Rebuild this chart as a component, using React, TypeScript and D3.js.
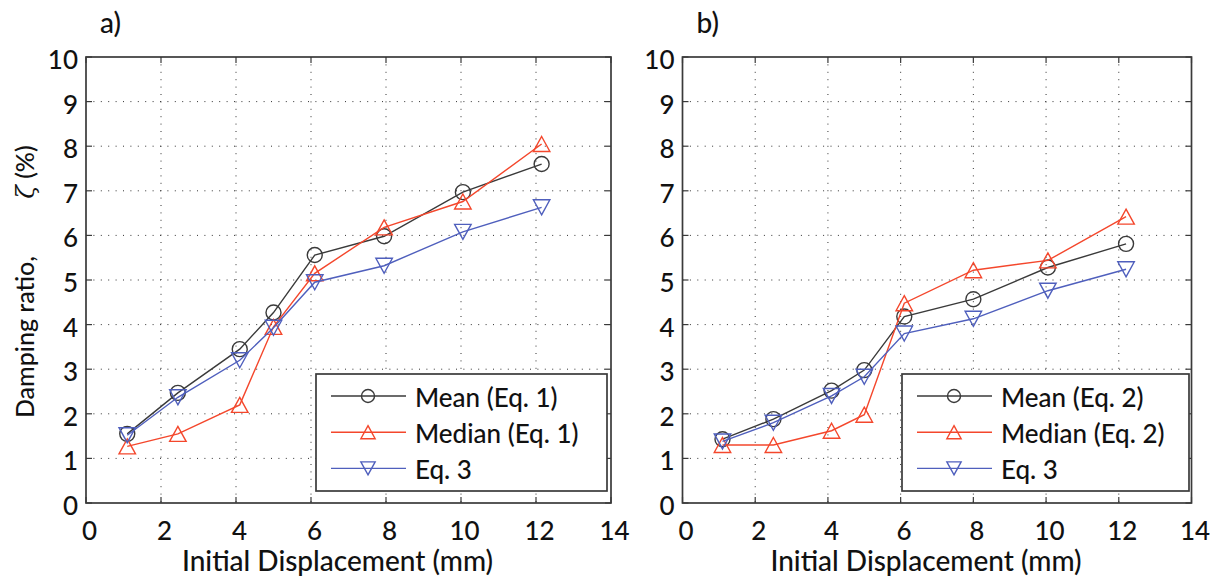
import React from "react";
import * as d3 from "d3";

// ---------- data ----------
const xTicks = [0, 2, 4, 6, 8, 10, 12, 14];
const yTicks = [0, 1, 2, 3, 4, 5, 6, 7, 8, 9, 10];

const dispA = [1.1, 2.45, 4.1, 5.0, 6.1, 7.95, 10.05, 12.15];
const meanA = [1.55, 2.47, 3.45, 4.27, 5.56, 5.98, 6.97, 7.6];
const medianA = [1.27, 1.55, 2.2, 3.95, 5.15, 6.18, 6.76, 8.05];
const eq3A = [1.52, 2.37, 3.2, 3.93, 4.95, 5.32, 6.08, 6.63];

const dispB = [1.1, 2.5, 4.1, 5.0, 6.1, 8.0, 10.05, 12.2];
const meanB = [1.43, 1.88, 2.52, 2.98, 4.18, 4.57, 5.28, 5.81];
const medianB = [1.3, 1.3, 1.62, 1.98, 4.48, 5.22, 5.44, 6.42];
const eq3B = [1.38, 1.8, 2.4, 2.83, 3.8, 4.13, 4.76, 5.24];

const legendA = ["Mean (Eq. 1)", "Median (Eq. 1)", "Eq. 3"];
const legendB = ["Mean (Eq. 2)", "Median (Eq. 2)", "Eq. 3"];

// ---------- style ----------
const FONT = "Lato, 'Open Sans', sans-serif";
const BLACK = "#3a3a3a";
const RED = "#f4472c";
const BLUE = "#4f5fbd";
const seriesStyles = [
  { color: BLACK, marker: "circle" },
  { color: RED, marker: "up" },
  { color: BLUE, marker: "down" },
];

type TProps = {
  x: number;
  y: number;
  size: number;
  anchor?: "start" | "middle" | "end";
  rotate?: number;
  children: React.ReactNode;
};
function T({ x, y, size, anchor = "start", rotate = 0, children }: TProps) {
  return (
    <text
      transform={`translate(${x},${y}) rotate(${rotate})`}
      textAnchor={anchor}
      fontFamily={FONT}
      fontWeight={500}
      fontSize={size}
      fill="#111"
    >
      {children}
    </text>
  );
}

type MarkerProps = { kind: string; x: number; y: number; color: string; s: number };
function Marker({ kind, x, y, color, s }: MarkerProps) {
  if (kind === "circle") {
    return <circle cx={x} cy={y} r={s * 0.5} fill="none" stroke={color} strokeWidth={1.4} />;
  }
  const h = s * 0.5;
  const w = s * 0.55;
  const pts =
    kind === "up"
      ? [[x, y - h], [x + w, y + h], [x - w, y + h]]
      : [[x, y + h], [x + w, y - h], [x - w, y - h]];
  return (
    <polygon
      points={pts.map((p) => p.join(",")).join(" ")}
      fill="none"
      stroke={color}
      strokeWidth={1.4}
    />
  );
}

type PanelProps = {
  left: number;
  right: number;
  top: number;
  bottom: number;
  label: string;
  disp: number[];
  series: number[][];
  legend: string[];
  legendBox: { x0: number; x1: number; y0: number; y1: number };
  showYTitle: boolean;
};

function Panel(p: PanelProps) {
  const x = d3.scaleLinear().domain([0, 14]).range([p.left, p.right]);
  const y = d3.scaleLinear().domain([0, 10]).range([p.bottom, p.top]);
  const line = d3
    .line<[number, number]>()
    .x((d) => x(d[0]))
    .y((d) => y(d[1]));
  const tickLen = 6;
  const lb = p.legendBox;
  const rowH = 36.2;
  const rowY0 = lb.y0 + 22;
  return (
    <g>
      {/* grid */}
      {xTicks.slice(1, -1).map((t) => (
        <line
          key={"gx" + t}
          x1={x(t)}
          x2={x(t)}
          y1={p.top}
          y2={p.bottom}
          stroke="#333"
          strokeWidth={1}
          strokeDasharray="1,6.4"
        />
      ))}
      {yTicks.slice(1, -1).map((t) => (
        <line
          key={"gy" + t}
          x1={p.left}
          x2={p.right}
          y1={y(t)}
          y2={y(t)}
          stroke="#333"
          strokeWidth={1}
          strokeDasharray="1,6.4"
        />
      ))}
      {/* ticks */}
      {xTicks.map((t) => (
        <g key={"tx" + t}>
          <line x1={x(t)} x2={x(t)} y1={p.bottom} y2={p.bottom - tickLen} stroke={BLACK} strokeWidth={1.2} />
          <line x1={x(t)} x2={x(t)} y1={p.top} y2={p.top + tickLen} stroke={BLACK} strokeWidth={1.2} />
          <T x={x(t) + 3.5} y={p.bottom + 36.5} size={26} anchor="middle">
            {t}
          </T>
        </g>
      ))}
      {yTicks.map((t) => (
        <g key={"ty" + t}>
          <line x1={p.left} x2={p.left + tickLen} y1={y(t)} y2={y(t)} stroke={BLACK} strokeWidth={1.2} />
          <line x1={p.right} x2={p.right - tickLen} y1={y(t)} y2={y(t)} stroke={BLACK} strokeWidth={1.2} />
          <T x={p.left - 8} y={y(t) + 12} size={26} anchor="end">
            {t}
          </T>
        </g>
      ))}
      {/* series */}
      {p.series.map((vals, i) => {
        const st = seriesStyles[i];
        const pts = p.disp.map((d, j) => [d, vals[j]] as [number, number]);
        return (
          <g key={"s" + i}>
            <path d={line(pts) || ""} fill="none" stroke={st.color} strokeWidth={1.4} />
            {pts.map((pt, j) => (
              <Marker key={j} kind={st.marker} x={x(pt[0])} y={y(pt[1])} color={st.color} s={15} />
            ))}
          </g>
        );
      })}
      {/* box */}
      <rect
        x={p.left}
        y={p.top}
        width={p.right - p.left}
        height={p.bottom - p.top}
        fill="none"
        stroke={BLACK}
        strokeWidth={1.7}
      />
      {/* legend */}
      <rect
        x={lb.x0}
        y={lb.y0}
        width={lb.x1 - lb.x0}
        height={lb.y1 - lb.y0}
        fill="#fff"
        stroke={BLACK}
        strokeWidth={1.7}
      />
      {p.legend.map((name, i) => {
        const st = seriesStyles[i];
        const cy = rowY0 + i * rowH;
        return (
          <g key={"l" + i}>
            <line x1={lb.x0 + 15} x2={lb.x0 + 90} y1={cy} y2={cy} stroke={st.color} strokeWidth={1.4} />
            <Marker kind={st.marker} x={lb.x0 + 52} y={cy} color={st.color} s={13} />
            <T x={lb.x0 + 99} y={cy + 10.5} size={26}>
              {name}
            </T>
          </g>
        );
      })}
      {/* titles */}
      <T x={(p.left + p.right) / 2 - 11} y={p.bottom + 68} size={28} anchor="middle">
        Initial Displacement (mm)
      </T>
      <T x={p.left + 14} y={33} size={28}>
        {p.label}
      </T>
      {p.showYTitle && (
        <g>
          <T x={34} y={(p.top + p.bottom) / 2 + 57} size={25} anchor="middle" rotate={-90}>
            Damping ratio,
          </T>
          <T x={34} y={(p.top + p.bottom) / 2 - 108} size={25} anchor="middle" rotate={-90}>
            <tspan fontFamily="'DejaVu Serif', serif" fontStyle="italic" fontWeight={400}>ζ</tspan>
            <tspan> (%)</tspan>
          </T>
        </g>
      )}
    </g>
  );
}

export default function App() {
  return (
    <svg width={1230} height={581} style={{ position: "absolute", left: 0, top: 0, background: "#fff" }}>
      <rect x={0} y={0} width={1230} height={581} fill="#fff" />
      <Panel
        left={86}
        right={611}
        top={57}
        bottom={503}
        label="a)"
        disp={dispA}
        series={[meanA, medianA, eq3A]}
        legend={legendA}
        legendBox={{ x0: 316, x1: 607, y0: 374, y1: 491 }}
        showYTitle={true}
      />
      <Panel
        left={682.5}
        right={1191.5}
        top={57}
        bottom={503}
        label="b)"
        disp={dispB}
        series={[meanB, medianB, eq3B]}
        legend={legendB}
        legendBox={{ x0: 902, x1: 1189, y0: 374, y1: 491 }}
        showYTitle={false}
      />
    </svg>
  );
}
